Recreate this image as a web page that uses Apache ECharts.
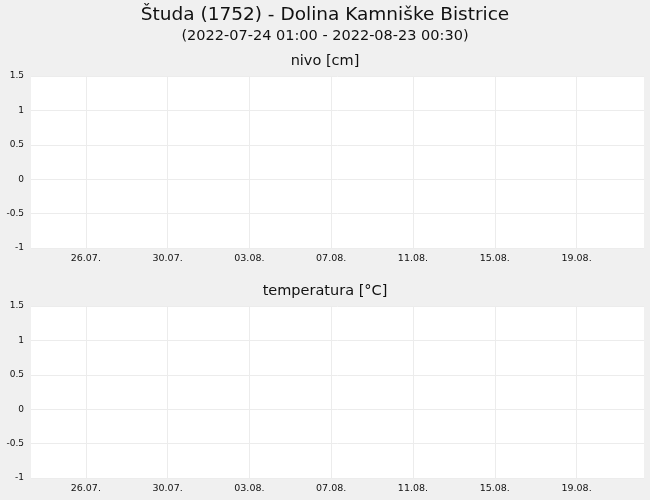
<!DOCTYPE html>
<html>
<head>
<meta charset="utf-8">
<script src="https://cdn.jsdelivr.net/npm/echarts@6/dist/echarts.min.js"></script>
<style>
  html, body { margin: 0; padding: 0; background: #f0f0f0; }
  #chart { width: 650px; height: 500px; }
</style>
</head>
<body>
<div id="chart"></div>
<script>
// chart texts
var titleText = 'Študa (1752) - Dolina Kamniške Bistrice';
var subText = '(2022-07-24 01:00 - 2022-08-23 00:30)';
var panelNames = ['nivo [cm]', 'temperatura [°C]'];

// time range and tick positions (labels are day starts of the grid lines)
var rangeStart = '2022-07-24 01:00';
var rangeEnd = '2022-08-23 00:30';
var tickTimes = ['2022-07-26 17:20', '2022-07-30 17:20', '2022-08-03 17:20', '2022-08-07 17:20',
                 '2022-08-11 17:20', '2022-08-15 17:20', '2022-08-19 17:20'];
var tickLabels = ['26.07.', '30.07.', '03.08.', '07.08.', '11.08.', '15.08.', '19.08.'];

// y scale
var yMin = -1, yMax = 1.5, yStep = 0.5;

// measurements (no data in this period)
var nivoValues = [];
var tempValues = [];

var font = 'DejaVu Sans';
var toTs = function (s) { return new Date(s.replace(' ', 'T') + ':00Z').getTime(); };
var tickTs = tickTimes.map(toTs);

var grids = [
  {left: 31, right: 6, top: 76, height: 172},
  {left: 31, right: 6, top: 306, height: 172}
];
grids.forEach(function (g) { g.show = true; g.backgroundColor = '#fff'; g.borderWidth = 0; });

function xAxis(i) {
  return {
    type: 'value', gridIndex: i,
    min: toTs(rangeStart), max: toTs(rangeEnd),
    axisLine: {show: false},
    axisTick: {show: false, customValues: tickTs},
    splitLine: {show: true, lineStyle: {color: '#ececec', width: 1}},
    axisLabel: {
      customValues: tickTs, margin: 6,
      fontFamily: font, fontSize: 9.5, color: '#111',
      formatter: function (v) { return tickLabels[tickTs.indexOf(v)] || ''; }
    }
  };
}
function yAxis(i) {
  return {
    type: 'value', gridIndex: i,
    min: yMin, max: yMax, interval: yStep,
    axisLine: {show: false}, axisTick: {show: false},
    splitLine: {show: true, lineStyle: {color: '#ececec', width: 1}},
    axisLabel: {margin: 7, fontFamily: font, fontSize: 9, color: '#111'}
  };
}

var option = {
  backgroundColor: '#f0f0f0',
  animation: false,
  title: [
    {text: titleText, left: 'center', top: 1, textStyle: {fontFamily: font, fontSize: 18.5, fontWeight: 'normal', color: '#111'}},
    {text: subText, left: 'center', top: 24, textStyle: {fontFamily: font, fontSize: 14.5, fontWeight: 'normal', color: '#111'}},
    {text: panelNames[0], left: 'center', top: 49, textStyle: {fontFamily: font, fontSize: 14.5, fontWeight: 'normal', color: '#111'}},
    {text: panelNames[1], left: 'center', top: 279, textStyle: {fontFamily: font, fontSize: 14.5, fontWeight: 'normal', color: '#111'}}
  ],
  grid: grids,
  xAxis: [xAxis(0), xAxis(1)],
  yAxis: [yAxis(0), yAxis(1)],
  series: [
    {name: panelNames[0], type: 'line', xAxisIndex: 0, yAxisIndex: 0, showSymbol: false, data: nivoValues},
    {name: panelNames[1], type: 'line', xAxisIndex: 1, yAxisIndex: 1, showSymbol: false, data: tempValues}
  ]
};

var myChart = echarts.init(document.getElementById('chart'));
myChart.setOption(option);
</script>
</body>
</html>
